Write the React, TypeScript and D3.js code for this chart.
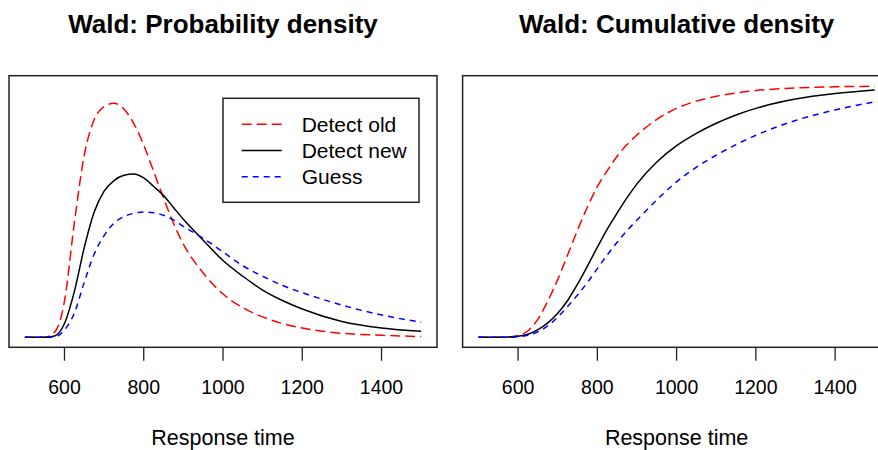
import * as d3 from "d3";

// response time grid (ms)
const times = [500, 550, 575, 600, 625, 650, 675, 700, 725, 750, 775, 800, 825, 850, 875, 900, 950, 1000, 1050, 1100, 1150, 1200, 1300, 1400, 1500];

// probability density (1/ms)
const pdfOld = [0, 0, 0.000076, 0.00055, 0.00175, 0.00278, 0.00332, 0.00352, 0.00357, 0.00348, 0.00326, 0.00293, 0.00253, 0.00212, 0.00174, 0.00142, 0.00098, 0.00066, 0.00045, 0.00031, 0.00021, 0.00014, 0.00006, 0.00003, 0.00001];
const pdfNew = [0, 0, 0.00002, 0.00021, 0.0007, 0.00137, 0.00191, 0.00223, 0.00239, 0.00247, 0.00249, 0.00243, 0.0023, 0.00216, 0.00198, 0.0018, 0.00148, 0.00117, 0.00093, 0.00072, 0.00056, 0.00043, 0.00024, 0.00014, 0.00009];
const pdfGuess = [0, 0, 0.000005, 0.00011, 0.00037, 0.00084, 0.00127, 0.00155, 0.00174, 0.00184, 0.00189, 0.00191, 0.0019, 0.00186, 0.00179, 0.00169, 0.00151, 0.0013, 0.00109, 0.00093, 0.00079, 0.00068, 0.00049, 0.00034, 0.00023];

// cumulative density
const cdfOld = [0, 0, 0.001, 0.006, 0.026, 0.072, 0.144, 0.229, 0.327, 0.426, 0.518, 0.599, 0.662, 0.72, 0.766, 0.804, 0.866, 0.91, 0.939, 0.958, 0.971, 0.981, 0.991, 0.996, 0.998];
const cdfNew = [0, 0, 0.001, 0.004, 0.012, 0.03, 0.057, 0.095, 0.146, 0.211, 0.283, 0.358, 0.43, 0.494, 0.555, 0.61, 0.697, 0.762, 0.811, 0.851, 0.884, 0.91, 0.947, 0.969, 0.983];
const cdfGuess = [0, 0, 0, 0.002, 0.008, 0.022, 0.045, 0.08, 0.122, 0.168, 0.218, 0.273, 0.327, 0.378, 0.424, 0.466, 0.546, 0.618, 0.676, 0.724, 0.766, 0.803, 0.862, 0.904, 0.936];

const xTicks = [600, 800, 1000, 1200, 1400];
const seriesNames = ["Detect old", "Detect new", "Guess"];
const seriesColors = ["red", "black", "blue"];
const seriesDash = ["10 5", "none", "6 5"];

const W = 878;
const H = 450;
const font = "'Liberation Sans', Arial, sans-serif";

// R-style 4% axis extension
const pad = (lo: number, hi: number) => {
  const d = (hi - lo) * 0.04;
  return [lo - d, hi + d];
};

function Panel({ left, title, series, yMax, legend }) {
  const plotW = 428;
  const top = 75.7;
  const bottom = 347.3;
  const x = d3.scaleLinear(pad(500, 1500), [left, left + plotW]);
  const y = d3.scaleLinear(pad(0, yMax), [bottom, top]);
  const line = d3
    .line<number>()
    .x((d, i) => x(times[i]))
    .y((d) => y(d))
    .curve(d3.curveMonotoneX);
  const cx = left + plotW / 2;

  return (
    <g>
      <text x={cx} y={33} textAnchor="middle" fontFamily={font} fontWeight="bold" fontSize={26}>
        {title}
      </text>
      {series.map((s, i) => (
        <path
          key={i}
          d={line(s)}
          fill="none"
          stroke={seriesColors[i]}
          strokeWidth={1.5}
          strokeDasharray={seriesDash[i]}
        />
      ))}
      <rect x={left} y={top} width={plotW} height={bottom - top} fill="none" stroke="#222" strokeWidth={1.5} />
      {xTicks.map((t) => (
        <g key={t}>
          <line x1={x(t)} x2={x(t)} y1={bottom} y2={bottom + 13.4} stroke="#222" strokeWidth={1.3} />
          <text x={x(t)} y={394} textAnchor="middle" fontFamily={font} fontSize={19.5}>
            {t}
          </text>
        </g>
      ))}
      <text x={cx} y={445} textAnchor="middle" fontFamily={font} fontSize={21.5}>
        Response time
      </text>
      {legend && (
        <g>
          <rect x={223} y={98.3} width={196} height={104} fill="white" stroke="#222" strokeWidth={1.5} />
          {seriesNames.map((n, i) => {
            const ly = 124.3 + i * 26.2;
            return (
              <g key={n}>
                <line x1={241.7} x2={281.7} y1={ly} y2={ly} stroke={seriesColors[i]} strokeWidth={1.5} strokeDasharray={seriesDash[i]} />
                <text x={301.7} y={ly} dominantBaseline="central" fontFamily={font} fontSize={21}>
                  {n}
                </text>
              </g>
            );
          })}
        </g>
      )}
    </g>
  );
}

export default function App() {
  return (
    <svg width={W} height={H} style={{ position: "absolute", left: 0, top: 0, background: "white" }}>
      <Panel
        left={9}
        title="Wald: Probability density"
        series={[pdfOld, pdfNew, pdfGuess]}
        yMax={0.003836}
        legend
      />
      <Panel left={462.6} title="Wald: Cumulative density" series={[cdfOld, cdfNew, cdfGuess]} yMax={1} legend={false} />
    </svg>
  );
}
